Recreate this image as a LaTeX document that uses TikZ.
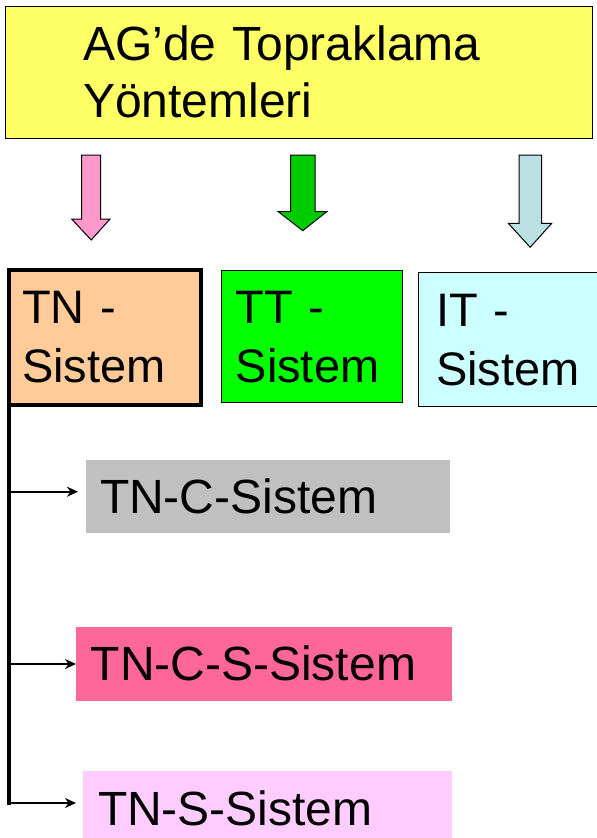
\documentclass[tikz,border=0pt]{standalone}
\usepackage{fontspec}
\setmainfont{Liberation Sans}
\usetikzlibrary{arrows.meta}

\definecolor{titleyellow}{HTML}{FFFF66}
\definecolor{arrowpink}{HTML}{FF99CC}
\definecolor{arrowgreen}{HTML}{00CC00}
\definecolor{arrowblue}{HTML}{BBE0E3}
\definecolor{tnorange}{HTML}{FFCC99}
\definecolor{ttgreen}{HTML}{00FF00}
\definecolor{itcyan}{HTML}{CCFFFF}
\definecolor{tncgray}{HTML}{C0C0C0}
\definecolor{tncsrose}{HTML}{FF6699}
\definecolor{tnslilac}{HTML}{FFCCFF}

\tikzset{
  sysbox/.style={draw=black, line width=1pt, outer sep=0pt, inner ysep=0pt,
    align=left, anchor=west, font=\fontsize{47}{59}\selectfont},
  subbox/.style={outer sep=0pt, inner ysep=0pt, align=left, anchor=west,
    font=\fontsize{48}{58}\selectfont},
  fatarrow/.style={draw=black, line width=1pt},
  trunk/.style={line width=4pt, line cap=rect},
  branch/.style={line width=1.8pt, -{Stealth[length=11pt,width=10pt,inset=3.5pt]}}
}

\begin{document}
\begin{tikzpicture}[x=1pt,y=-1pt]
\useasboundingbox (0,0) rectangle (597,838);

% title
\node[sysbox, fill=titleyellow, inner xsep=78pt, text width=431pt, minimum height=132pt,
  font=\fontsize{48}{57}\selectfont] (title) at (5,72) {AG’de Topraklama\\Yöntemleri};

% block arrows
\draw[fatarrow, fill=arrowpink] (81.7,155) -- (100.7,155) -- (100.7,219) -- (110,219)
  -- (91.2,240) -- (71.7,219) -- (81.7,219) -- cycle;
\draw[fatarrow, fill=arrowgreen] (290.7,155) -- (315,155) -- (315,211.7) -- (326.7,211.7)
  -- (302.8,230.7) -- (278.3,211.7) -- (290.7,211.7) -- cycle;
\draw[fatarrow, fill=arrowblue] (519,155) -- (541.7,155) -- (541.7,223.3) -- (551.7,223.3)
  -- (530.2,247.3) -- (508.3,223.3) -- (519,223.3) -- cycle;

% systems
\node[sysbox, fill=tnorange, line width=4pt, inner xsep=13pt, text width=166pt,
  minimum height=135pt] (tn) at (9,337.5) {TN -\\Sistem};
\node[sysbox, fill=ttgreen, inner xsep=14pt, text width=153pt,
  minimum height=132.3pt] (tt) at (221.7,336.8) {TT -\\Sistem};
\node[sysbox, fill=itcyan, inner xsep=18pt, text width=146pt,
  minimum height=133.7pt] (it) at (418,339.8) {IT -\\Sistem};

% TN variants
\node[subbox, fill=tncgray, inner xsep=14pt, text width=336pt,
  minimum height=72.7pt] (tnc) at (86,496.3) {TN-C-Sistem};
\node[subbox, fill=tncsrose, inner xsep=14.7pt, text width=346.3pt,
  minimum height=73.7pt] (tncs) at (76,663.8) {TN-C-S-Sistem};
\node[subbox, fill=tnslilac, inner xsep=15.3pt, text width=338.4pt,
  minimum height=75pt] (tns) at (82.7,808.5) {TN-S-Sistem};

\coordinate (j1) at (9,491.7);
\coordinate (j2) at (9,664);
\coordinate (j3) at (9,803);

\draw[trunk] (tn.south west) -- (j3);
\draw[branch, shorten >=8pt] (j1) -- (j1 -| tnc.west);
\draw[branch] (j2) -- (j2 -| tncs.west);
\draw[branch, shorten >=6.7pt] (j3) -- (j3 -| tns.west);
\end{tikzpicture}
\end{document}
